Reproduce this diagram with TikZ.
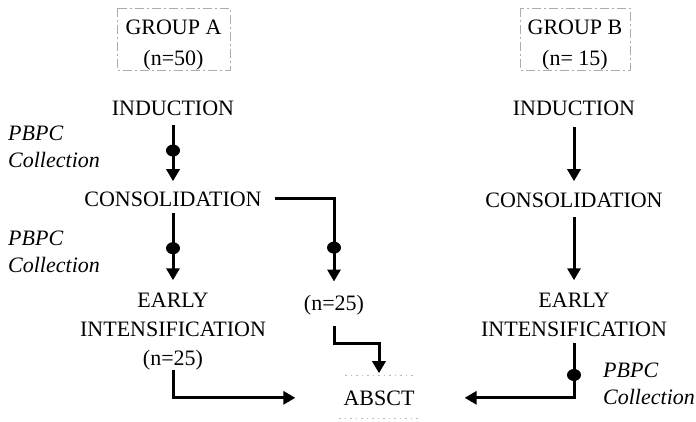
\documentclass[tikz,border=0pt]{standalone}
\usepackage{fontspec}
\setmainfont{Liberation Serif}
\usetikzlibrary{arrows.meta,shapes.geometric}
\begin{document}
\begin{tikzpicture}[x=1pt,y=-1pt,
  lbl/.style={font=\fontsize{22}{29}\selectfont, inner sep=0pt, align=center, anchor=base},
  coll/.style={font=\fontsize{22}{27}\selectfont\itshape, inner sep=0pt, align=left, anchor=base west},
  flow/.style={line width=3pt, -{Triangle[length=12pt,width=13pt]}},
  dotm/.style={fill=black, ellipse, minimum width=14pt, minimum height=12pt, inner sep=0pt},
  grpbox/.style={draw=gray!65, line width=0.7pt, dash pattern=on 9pt off 3pt on 2pt off 3pt},
  faint/.style={draw=gray!55, line width=0.7pt, dash pattern=on 1.5pt off 4pt}
]
\useasboundingbox (0,0) rectangle (696,421);

% group headers (base = baseline of last line)
\node[lbl, font=\fontsize{22}{31}\selectfont] (gA) at (173.5,65) {GROUP A\\(n=50)};
\node[lbl, font=\fontsize{22}{31}\selectfont] (gB) at (575,65) {GROUP B\\(n= 15)};
\draw[grpbox] ([shift={(-56.5,-57)}]gA.base) rectangle ([shift={(56.5,5)}]gA.base);
\draw[grpbox] ([shift={(-55,-57)}]gB.base) rectangle ([shift={(55,5)}]gB.base);

% group A
\node[lbl] (indA) at (173,115) {INDUCTION};
\node[lbl] (consA) at (173,206) {CONSOLIDATION};
\node[lbl] (earlyA) at (173,365) {EARLY\\INTENSIFICATION\\(n=25)};
\node[lbl] (n25) at (334,310) {(n=25)};
\node[lbl] (abs) at (379,405) {ABSCT};
\draw[faint] ([shift={(-34,-30)}]abs.base) -- ([shift={(36,-30)}]abs.base);
\draw[faint] ([shift={(-40,13)}]abs.base) -- ([shift={(42,13)}]abs.base);

% group B
\node[lbl] (indB) at (574,115) {INDUCTION};
\node[lbl] (consB) at (574,207) {CONSOLIDATION};
\node[lbl] (earlyB) at (574,336) {EARLY\\INTENSIFICATION};

% PBPC labels (base = baseline of last line)
\node[coll] (p1) at (8,167) {PBPC\\Collection};
\node[coll] (p2) at (8,272) {PBPC\\Collection};
\node[coll] (p3) at (603,404) {PBPC\\Collection};

% connectors group A
\draw[flow] ([yshift=-10pt]indA.south) -- ([yshift=10pt]consA.north)
  node[dotm, pos=0.45] (d1) {};
\draw[flow] ([yshift=-7pt]consA.south) -- ([yshift=12pt]earlyA.north)
  node[dotm, pos=0.52] (d2) {};
\draw[flow] ([xshift=13pt]consA.east) -| ([yshift=13pt]n25.north)
  node[dotm, pos=0.795] (d3) {};
\draw[flow] ([yshift=-11pt]n25.south) -- ++(0,18) -| ([yshift=17pt]abs.north);
\draw[flow] (earlyA.south) |- ([xshift=-48pt]abs.west);

% connectors group B
\draw[flow] ([yshift=-12pt]indB.south) -- ([yshift=11pt]consB.north);
\draw[flow] ([yshift=-10pt]consB.south) -- ([yshift=12pt]earlyB.north);
\draw[flow] ([yshift=-7pt]earlyB.south) |- ([xshift=50pt]abs.east)
  node[dotm, pos=0.29] (d4) {};
\end{tikzpicture}
\end{document}
